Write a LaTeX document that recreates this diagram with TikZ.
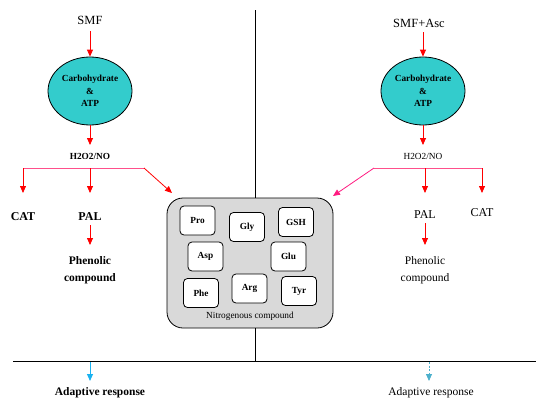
\documentclass[tikz,border=0pt]{standalone}
\usepackage{fontspec}
\setmainfont{Liberation Serif}
\usetikzlibrary{arrows.meta,shapes.geometric}
\definecolor{ell}{HTML}{33CCCC}
\definecolor{pinkline}{HTML}{FF4F8B}
\definecolor{magarrow}{HTML}{FF1A80}
\definecolor{boxgray}{HTML}{D9D9D9}
\definecolor{skyarrow}{HTML}{1AB2F0}
\definecolor{dasharrow}{HTML}{4DB0CC}
\tikzset{
  redarr/.style={draw=red,line width=0.8pt,-{Triangle[length=7pt,width=6pt]}},
  ellnode/.style={ellipse,draw=black,line width=0.8pt,fill=ell,minimum width=84pt,minimum height=68pt,inner sep=0pt,align=center,font=\fontsize{9.3}{12.5}\selectfont\bfseries},
  aabox/.style={draw=black,line width=0.8pt,fill=white,rounded corners=4pt,minimum width=35pt,minimum height=29pt,inner sep=0pt,font=\fontsize{9.3}{10}\selectfont\bfseries},
  lbl/.style={inner sep=0pt,align=center},
}
\begin{document}
\begin{tikzpicture}[x=1pt,y=-1pt]
\useasboundingbox (0,0) rectangle (536,399);
% dividing lines
\coordinate (vtop) at (255,10);
\coordinate (vbot) at (255,362);
\coordinate (hl) at (13,361);
\coordinate (hr) at (536,361);
\draw[line width=0.8pt] (hl) -- (hr);
% nitrogen box
\node[draw=black,line width=0.8pt,fill=boxgray,rounded corners=16pt,minimum width=166pt,minimum height=130pt,inner sep=0pt] (nbox) at (250,263) {};
\draw[line width=0.8pt] (vtop) -- (nbox.north -| vtop);
\draw[line width=0.8pt] (nbox.south -| vtop) -- (vbot);
\node[aabox] (pro) at (197.5,220.5) {Pro};
\node[aabox] (gly) at (247,227) {Gly};
\node[aabox] (gsh) at (296,222) {GSH};
\node[aabox] (asp) at (205.5,256.5) {Asp};
\node[aabox] (glu) at (288.5,256.5) {Glu};
\node[aabox] (phe) at (201,293) {Phe};
\node[aabox] (arg) at (249.5,288.5) {Arg};
\node[aabox] (tyr) at (299,291) {Tyr};
\node[lbl,font=\fontsize{9.3}{10}\selectfont] (ntext) at (250,316) {Nitrogenous compound};
% left column
\node[lbl,font=\fontsize{12.5}{14}\selectfont] (smf) at (90,20) {SMF};
\node[ellnode] (ell1) at (90,91) {Carbohydrate\\\&\\ATP};
\node[lbl,font=\fontsize{9.3}{10}\selectfont\bfseries] (h1) at (90,156) {H2O2/NO};
\coordinate (l1) at (23,168);
\coordinate (l2) at (90,168);
\coordinate (l3) at (144,168);
\coordinate (l4) at (172,193);
\node[lbl,font=\fontsize{12}{13}\selectfont\bfseries] (cat1) at (23,217) {CAT};
\node[lbl,font=\fontsize{12}{13}\selectfont\bfseries] (pal1) at (90,217) {PAL};
\node[lbl,font=\fontsize{11.5}{16.5}\selectfont\bfseries] (phen1) at (90,270) {Phenolic\\compound};
\draw[redarr] (90,31) -- (ell1.north);
\draw[redarr] (ell1.south) -- (90,145);
\draw[draw=pinkline,line width=0.8pt] (l1) -- (l3);
\draw[redarr] (l1) -- (23,193);
\draw[redarr] (l2) -- (90,193);
\draw[redarr] (l3) -- (l4);
\draw[redarr] (pal1.south) ++(0,4) -- (90,245);
% right column
\node[lbl,font=\fontsize{12.5}{14}\selectfont] (smf2) at (419,23) {SMF+Asc};
\node[ellnode] (ell2) at (423,91) {Carbohydrate\\\&\\ATP};
\node[lbl,font=\fontsize{9.3}{10}\selectfont] (h2) at (423,156) {H2O2/NO};
\coordinate (r1) at (374,168);
\coordinate (r2) at (425,168);
\coordinate (r3) at (482,168);
\coordinate (r4) at (333,196);
\node[lbl,font=\fontsize{12}{13}\selectfont] (pal2) at (425,215) {PAL};
\node[lbl,font=\fontsize{12}{13}\selectfont] (cat2) at (482,213) {CAT};
\node[lbl,font=\fontsize{11.5}{16.5}\selectfont] (phen2) at (425,270) {Phenolic\\compound};
\draw[redarr] (423,32) -- (ell2.north);
\draw[redarr] (ell2.south) -- (423,145);
\draw[draw=pinkline,line width=0.8pt] (r1) -- (r3);
\draw[redarr] (r2) -- (425,193);
\draw[redarr] (r3) -- (482,193);
\draw[redarr,draw=magarrow] (r1) -- (r4);
\draw[redarr] (pal2.south) ++(0,4) -- (425,245);
% bottom
\node[lbl,font=\fontsize{11.5}{13}\selectfont\bfseries] (ad1) at (100,393) {Adaptive response};
\node[lbl,font=\fontsize{11.5}{13}\selectfont] (ad2) at (431,393) {Adaptive response};
\draw[draw=skyarrow,line width=1pt,-{Triangle[length=7pt,width=6pt]}] (90,362) -- (90,381);
\draw[draw=dasharrow,line width=0.8pt,dashed,dash pattern=on 2pt off 1.5pt,-{Triangle[length=7pt,width=6pt]}] (429,362) -- (429,381);
\end{tikzpicture}
\end{document}
